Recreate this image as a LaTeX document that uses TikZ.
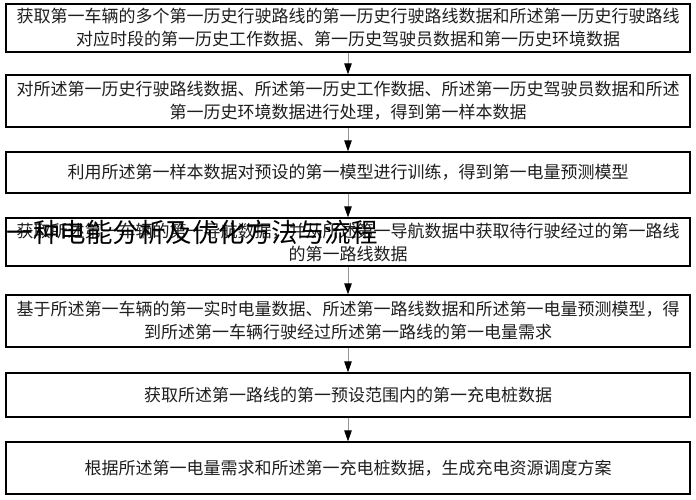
\documentclass[tikz,border=0pt]{standalone}
\usepackage{fontspec}
\setmainfont{Noto Sans CJK SC}
\usetikzlibrary{arrows.meta}
\definecolor{txt}{RGB}{30,30,30}
\definecolor{conn}{RGB}{150,150,150}
\tikzset{
  stepbox/.style={draw=black, line width=1.3pt, fill=white, minimum width=684pt, inner sep=0pt,
    align=center, text=txt, font=\fontsize{17pt}{23pt}\selectfont},
  arr/.style={draw=conn, line width=0.9pt, -{Triangle[length=11pt,width=7.5pt,color=black]}},
  titletext/.style={font=\fontsize{26.5pt}{30pt}\selectfont, text=black, inner sep=0pt}
}
\begin{document}
\begin{tikzpicture}[x=1pt,y=-1pt]
\useasboundingbox[fill=white] (0,0) rectangle (696,500);
\node[stepbox, minimum height=48pt] (b1) at (348,28) {获取第一车辆的多个第一历史行驶路线的第一历史行驶路线数据和所述第一历史行驶路线\\对应时段的第一历史工作数据、第一历史驾驶员数据和第一历史环境数据};
\node[stepbox, minimum height=52pt] (b2) at (348,101) {对所述第一历史行驶路线数据、所述第一历史工作数据、所述第一历史驾驶员数据和所述\\第一历史环境数据进行处理，得到第一样本数据};
\node[stepbox, minimum height=41pt] (b3) at (348,172.5) {利用所述第一样本数据对预设的第一模型进行训练，得到第一电量预测模型};
\node[stepbox, minimum height=48pt] (b4) at (348,242) {获取所述第一车辆的第一导航数据，并从所述第一导航数据中获取待行驶经过的第一路线\\的第一路线数据};
\node[stepbox, minimum height=52pt] (b5) at (348,321) {基于所述第一车辆的第一实时电量数据、所述第一路线数据和所述第一电量预测模型，得\\到所述第一车辆行驶经过所述第一路线的第一电量需求};
\node[stepbox, minimum height=44pt] (b6) at (348,395) {获取所述第一路线的第一预设范围内的第一充电桩数据};
\node[stepbox, minimum height=52pt] (b7) at (348,468) {根据所述第一电量需求和所述第一充电桩数据，生成充电资源调度方案};
\draw[arr] (b1) -- (b2);
\draw[arr] (b2) -- (b3);
\draw[arr] (b3) -- (b4);
\draw[arr] (b4) -- (b5);
\draw[arr] (b5) -- (b6);
\draw[arr] (b6) -- (b7);
\node[titletext] (title) at (192,232) {一种电能分析及优化方法与流程};
\end{tikzpicture}
\end{document}
